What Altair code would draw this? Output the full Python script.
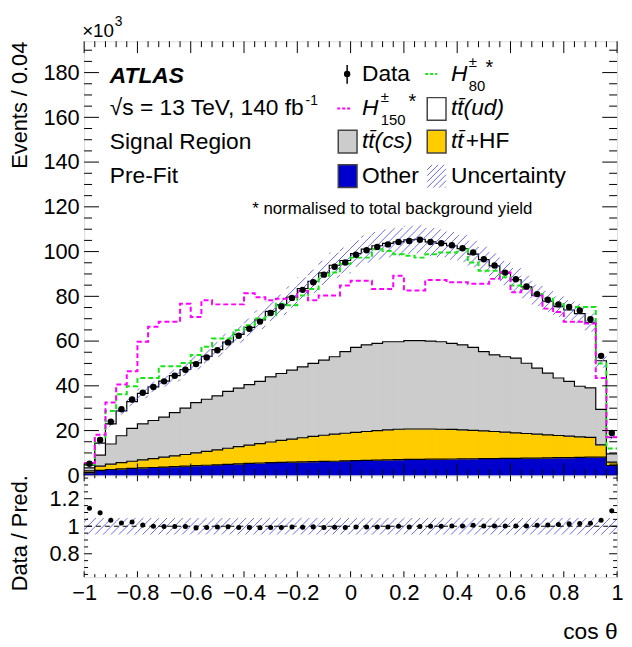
import altair as alt
import pandas as pd

# ---------------- data (in units of 10^3) ----------------
N = 50
bin_lo = [round(-1 + 0.04 * i, 2) for i in range(N)]
bin_hi = [round(-0.96 + 0.04 * i, 2) for i in range(N)]

data_obs = [5.2, 15.8, 24.0, 29.5, 33.9, 36.9, 39.5, 42.0, 44.5, 47.2,
            49.7, 52.7, 55.9, 59.4, 62.4, 65.5, 68.7, 72.6, 75.5, 79.3,
            82.9, 86.3, 89.7, 93.2, 95.1, 98.6, 100.6, 102.1, 103.2, 104.3,
            104.7, 105.3, 104.3, 103.7, 102.8, 101.5, 99.6, 96.6, 93.8, 90.6,
            87.6, 84.4, 81.0, 78.5, 76.4, 75.2, 73.7, 69.8, 53.4, 18.9]
other = [1.2, 2.2, 2.6, 2.9, 3.1, 3.3, 3.5, 3.7, 3.9, 4.1,
         4.3, 4.5, 4.7, 4.9, 5.1, 5.3, 5.5, 5.7, 5.8, 5.9,
         6.0, 6.1, 6.2, 6.3, 6.5, 6.6, 6.7, 6.8, 6.9, 7.0,
         7.1, 7.1, 7.2, 7.2, 7.3, 7.4, 7.4, 7.5, 7.5, 7.6,
         7.6, 7.7, 7.7, 7.8, 7.9, 7.9, 8.0, 8.1, 8.1, 4.4]
tt_hf = [0.8, 1.9, 2.4, 2.8, 3.2, 3.6, 4.0, 4.4, 4.8, 5.2,
         5.7, 6.2, 6.7, 7.2, 7.7, 8.2, 8.7, 9.2, 9.8, 10.3,
         10.8, 11.3, 11.7, 12.1, 12.3, 12.6, 12.9, 13.2, 13.4, 13.6,
         13.6, 13.6, 13.5, 13.4, 13.2, 12.9, 12.7, 12.4, 12.1, 11.7,
         11.4, 11.0, 10.7, 10.3, 9.9, 9.6, 9.2, 8.9, 5.5, 1.5]
tt_cs = [1.3, 4.9, 9.0, 12.0, 14.7, 16.1, 17.0, 17.9, 19.3, 20.7,
         22.5, 23.3, 24.1, 25.4, 26.2, 27.0, 27.8, 29.1, 29.9, 30.8,
         31.7, 32.6, 33.6, 34.6, 36.5, 38.0, 38.7, 39.0, 39.4, 39.1,
         39.5, 39.5, 39.3, 39.1, 38.5, 38.0, 37.1, 35.4, 34.2, 33.7,
         33.4, 31.4, 29.5, 27.6, 25.7, 24.5, 22.6, 22.1, 15.9, 3.7]
tt_ud = [1.3, 5.4, 9.0, 11.1, 11.9, 13.6, 15.0, 16.1, 16.6, 17.3,
         17.8, 19.2, 20.7, 22.1, 24.0, 25.6, 27.5, 29.3, 30.7, 32.7,
         35.0, 36.7, 39.0, 40.9, 40.7, 41.9, 42.8, 43.6, 44.0, 44.6,
         45.0, 45.3, 44.3, 44.0, 43.6, 43.0, 41.7, 41.1, 39.8, 37.4,
         35.0, 34.1, 32.5, 32.1, 31.9, 31.9, 32.5, 29.2, 21.7, 7.4]
h80 = [5.0, 16.5, 28.8, 36.2, 39.8, 43.5, 43.5, 48.7, 48.7, 50.2,
       53.8, 57.5, 61.2, 61.2, 64.9, 67.1, 70.1, 71.5, 76.7, 76.0,
       80.4, 83.3, 89.2, 90.7, 94.5, 97.3, 97.3, 101.0, 100.3, 98.8,
       98.1, 97.3, 98.8, 99.6, 99.6, 101.0, 95.1, 91.4, 91.4, 88.5,
       84.8, 83.3, 81.1, 78.9, 76.6, 75.2, 75.2, 75.2, 50.0, 12.0]
h150 = [5.5, 18.1, 32.5, 40.6, 46.5, 59.7, 66.4, 68.6, 68.6, 76.7,
        70.8, 78.2, 76.4, 76.4, 76.4, 81.4, 79.6, 78.2, 78.9, 79.6,
        82.5, 78.2, 80.4, 80.4, 84.8, 87.0, 87.0, 83.3, 83.3, 89.2,
        82.6, 82.6, 87.3, 87.3, 86.3, 86.3, 85.6, 85.6, 87.8, 90.7,
        81.8, 83.3, 80.4, 74.5, 73.0, 68.6, 68.6, 67.9, 43.5, 17.0]
UNC = 0.06  # relative size of the uncertainty band

x_major = [-1, -0.8, -0.6, -0.4, -0.2, 0, 0.2, 0.4, 0.6, 0.8, 1]
y_major = [0, 20, 40, 60, 80, 100, 120, 140, 160, 180]
r_major = [0.8, 1.0, 1.2]

# ---------------- layout constants ----------------
W, H1, H2 = 539, 439, 103
YMAX = 194
RLO, RHI = 0.63, 1.37
FONT = "Liberation Sans"
GREEN = "#14e614"
MAGENTA = "#ff00ff"
HATCH = "#6464ff"
HS = 8  # hatch spacing (px)

xs = alt.Scale(domain=[-1, 1], nice=False, zero=False)
ys = alt.Scale(domain=[0, YMAX], nice=False, zero=False)
rs = alt.Scale(domain=[RLO, RHI], nice=False, zero=False)

procs = ["Other", "ttHF", "ttcs", "ttud"]
pcolors = ["#0000cc", "#ffcc00", "#cccccc", "#ffffff"]

wide = pd.DataFrame({"bin": list(range(N)), "lo": bin_lo, "hi": bin_hi, "data": data_obs,
                     "Other": other, "ttHF": tt_hf, "ttcs": tt_cs, "ttud": tt_ud,
                     "H80": h80, "H150": h150})
wide["center"] = (wide["lo"] + wide["hi"]) / 2

long = wide.melt(id_vars=["bin", "lo", "hi"], value_vars=procs, var_name="process", value_name="val")
long["order"] = long["process"].map({p: i for i, p in enumerate(procs)})
sig = wide.melt(id_vars=["bin", "lo", "hi"], value_vars=["H80", "H150"], var_name="sig", value_name="val")

x_minor = [round(-1 + 0.04 * i, 2) for i in range(51)]
y_minor = [5 * i for i in range(39)]
r_minor = [round(0.65 + 0.05 * i, 2) for i in range(15)]

TOT = "datum.Other + datum.ttHF + datum.ttcs + datum.ttud"

# ---------------- axes ----------------
y_axis_main = alt.Axis(values=y_major, title="Events / 0.04", ticks=False, domain=False, grid=False,
                       labelFont=FONT, labelFontSize=22, labelPadding=5, labelColor="black",
                       labelFlush=False, labelOverlap=False,
                       titleFont=FONT, titleFontSize=22, titleFontWeight="normal", titleColor="black",
                       titleAngle=270, titleX=-65, titleY=0, titleAlign="right", titleBaseline="middle")
y_axis_ratio = alt.Axis(values=r_major, title="Data / Pred.", ticks=False, domain=False, grid=False,
                        labelFont=FONT, labelFontSize=22, labelPadding=5, labelColor="black",
                        labelFlush=False, labelOverlap=False,
                        labelExpr="datum.value == 1 ? '1' : format(datum.value, '.1f')",
                        titleFont=FONT, titleFontSize=22, titleFontWeight="normal", titleColor="black",
                        titleAngle=270, titleX=-65, titleY=58, titleAlign="center", titleBaseline="middle")
x_axis_ratio = alt.Axis(values=x_major, format=".1~f", title="cos θ", ticks=False, domain=False, grid=False,
                        labelFont=FONT, labelFontSize=22, labelPadding=6, labelColor="black",
                        labelFlush=False, labelOverlap=False,
                        titleFont=FONT, titleFontSize=23, titleFontWeight="normal", titleColor="black",
                        titleX=W, titleY=62, titleAlign="right", titleBaseline="alphabetic")


def xticks(vals, length, H, xaxis, top=False):
    df = pd.DataFrame({"v": vals})
    if top:
        yy, yy2 = alt.value(0), alt.value(length)
    else:
        yy, yy2 = alt.value(H), alt.value(H - length)
    return alt.Chart(df).mark_rule(color="black", strokeWidth=1).encode(
        x=alt.X("v:Q", scale=xs, axis=xaxis), y=yy, y2=yy2)


def yticks(vals, length, yscale, yaxis, right=False):
    df = pd.DataFrame({"v": vals})
    if right:
        xx, xx2 = alt.value(W), alt.value(W - length)
    else:
        xx, xx2 = alt.value(0), alt.value(length)
    return alt.Chart(df).mark_rule(color="black", strokeWidth=1).encode(
        y=alt.Y("v:Q", scale=yscale, axis=yaxis), x=xx, x2=xx2)


def txt(x, y, s, size=23, style="normal", weight="normal", align="left", baseline="middle", color="black"):
    return alt.Chart(pd.DataFrame({"t": [s]})).mark_text(
        font=FONT, fontSize=size, fontStyle=style, fontWeight=weight, align=align,
        baseline=baseline, color=color).encode(x=alt.value(x), y=alt.value(y), text="t:N")


def box(x1, x2, y1, y2, fill, stroke="#444444"):
    return alt.Chart(pd.DataFrame({"a": [0]})).mark_rect(
        fill=fill, stroke=stroke, strokeWidth=1.5).encode(
        x=alt.value(x1), x2=alt.value(x2), y=alt.value(y1), y2=alt.value(y2))


def seg(x1, x2, y1, y2, color, width=1.0, dash=None):
    kw = dict(color=color, strokeWidth=width)
    if dash:
        kw["strokeDash"] = dash
    return alt.Chart(pd.DataFrame({"a": [0]})).mark_rule(**kw).encode(
        x=alt.value(x1), x2=alt.value(x2), y=alt.value(y1), y2=alt.value(y2))


def hatch(base, lo_field, hi_field, y2px, px2y, yscale, xaxis, yaxis):
    """45-degree hatch lines filling each bin's band [lo_field, hi_field]."""
    px = W / 2
    return base.transform_calculate(
        xl=f"(datum.lo + 1) * {px}", xr=f"(datum.hi + 1) * {px}",
        yb=y2px.format(f"datum.{lo_field}"), yt=y2px.format(f"datum.{hi_field}")
    ).transform_calculate(
        ks=f"sequence(ceil((datum.yb - datum.xr) / {HS}), floor((datum.yt - datum.xl) / {HS}) + 1)"
    ).transform_flatten(["ks"]).transform_calculate(
        c=f"datum.ks * {HS}"
    ).transform_calculate(
        hx1="max(datum.xl, datum.yb - datum.c)", hx2="min(datum.xr, datum.yt - datum.c)"
    ).transform_filter("datum.hx2 > datum.hx1 + 0.05").transform_calculate(
        hv1=f"datum.hx1 / {px} - 1", hv2=f"datum.hx2 / {px} - 1",
        hy1=px2y.format("(datum.hx1 + datum.c)"), hy2=px2y.format("(datum.hx2 + datum.c)")
    ).mark_rule(color=HATCH, strokeWidth=1).encode(
        x=alt.X("hv1:Q", scale=xs, axis=xaxis), x2="hv2:Q",
        y=alt.Y("hy1:Q", scale=yscale, axis=yaxis), y2="hy2:Q")


# ---------------- main panel ----------------
stacked = alt.Chart(long).transform_stack(
    stack="val", groupby=["bin"], as_=["y0", "y1"], sort=[alt.SortField("order", order="ascending")])

pscale = alt.Scale(domain=procs, range=pcolors)
fills = stacked.mark_rect(strokeWidth=1.1).encode(
    x=alt.X("lo:Q", scale=xs, axis=None), x2="hi:Q",
    y=alt.Y("y0:Q", scale=ys, axis=y_axis_main), y2="y1:Q",
    color=alt.Color("process:N", scale=pscale, legend=None),
    stroke=alt.Stroke("process:N", scale=pscale, legend=None))

outlines = stacked.transform_fold(["lo", "hi"], as_=["edge", "xe"]).transform_calculate(
    seq="datum.bin * 2 + (datum.edge == 'hi' ? 1 : 0)").mark_line(color="black", strokeWidth=1.2).encode(
    x=alt.X("xe:Q", scale=xs, axis=None), y=alt.Y("y1:Q", scale=ys, axis=y_axis_main),
    detail="process:N", order="seq:Q")

mband = alt.Chart(wide).transform_calculate(tot=TOT).transform_calculate(
    blo=f"datum.tot * (1 - {UNC})", bhi=f"datum.tot * (1 + {UNC})")
band = hatch(mband, "blo", "bhi", "({} * " + f"{H1 / YMAX})", "({} / " + f"{H1 / YMAX})",
             ys, None, y_axis_main)


def signal_line(name, color):
    return alt.Chart(sig).transform_filter(f"datum.sig == '{name}'").transform_fold(
        ["lo", "hi"], as_=["edge", "xe"]).transform_calculate(
        seq="datum.bin * 2 + (datum.edge == 'hi' ? 1 : 0)").mark_line(
        strokeWidth=2, strokeDash=[5, 3], color=color).encode(
        x=alt.X("xe:Q", scale=xs, axis=None), y=alt.Y("val:Q", scale=ys, axis=y_axis_main),
        order="seq:Q")


sig80 = signal_line("H80", GREEN)
sig150 = signal_line("H150", MAGENTA)

points = alt.Chart(wide).mark_circle(size=42, color="black", opacity=1).encode(
    x=alt.X("center:Q", scale=xs, axis=None), y=alt.Y("data:Q", scale=ys, axis=y_axis_main))

xmin_main = [v for v in x_minor if v not in x_major]
main_ticks = [
    xticks(xmin_main, 6, H1, None),
    xticks(x_major, 12, H1, None),
    xticks(xmin_main, 6, H1, None, top=True),
    xticks(x_major, 12, H1, None, top=True),
    yticks([v for v in y_minor if v not in y_major], 8, ys, y_axis_main),
    yticks(y_major, 15, ys, y_axis_main),
    yticks([v for v in y_minor if v not in y_major], 8, ys, y_axis_main, right=True),
    yticks(y_major, 15, ys, y_axis_main, right=True),
]

# hatch lines in the legend box (decoration)
hb_x1, hb_x2, hb_y1, hb_y2 = 347, 366, 125, 148
hatch_legend = []
for c in range(-18, 24, 6):
    a = max(0, -c)
    b = min(hb_x2 - hb_x1, (hb_y2 - hb_y1) - c)
    if b > a:
        hatch_legend.append(seg(hb_x1 + a, hb_x1 + b, hb_y2 - (a + c), hb_y2 - (b + c), HATCH, 1))

texts = [
    txt(-2, -4, "×10", size=19, baseline="alphabetic"),
    txt(31, -15, "3", size=14, baseline="alphabetic"),
    txt(26, 35, "ATLAS", size=23, style="italic", weight="bold"),
    txt(26, 68, "√s = 13 TeV, 140 fb", size=23),
    txt(224, 60, "-1", size=14),
    txt(26, 102, "Signal Region", size=23),
    txt(26, 136, "Pre-Fit", size=23),
    txt(170, 170, "* normalised to total background yield", size=17),
    # row 1
    seg(266, 266, 24, 43, "black", 1.5),
    txt(281, 33, "Data", size=23),
    seg(345, 357, 33, 33, GREEN, 2, [3, 2]),
    txt(371, 33, "H", size=23, style="italic"),
    txt(389, 21, "±", size=15),
    txt(389, 45, "80", size=15),
    txt(406, 27, "*", size=20),
    # row 2
    seg(256, 271, 68, 68, MAGENTA, 2, [3, 2]),
    txt(281, 68, "H", size=23, style="italic"),
    txt(300, 56, "±", size=15),
    txt(300, 80, "150", size=15),
    txt(328, 62, "*", size=20),
    box(347, 366, 57, 80, "white"),
    txt(371, 68, "tt̄(ud)", size=23, style="italic"),
    # row 3
    box(257, 276, 90, 113, "#cccccc"),
    txt(281, 101, "tt̄(cs)", size=23, style="italic"),
    box(347, 366, 90, 113, "#ffcc00"),
    txt(371, 101, "tt̄", size=23, style="italic"),
    txt(386, 101, "+HF", size=23),
    # row 4
    box(257, 276, 125, 148, "#0000cc"),
    txt(281, 136, "Other", size=23),
    txt(371, 136, "Uncertainty", size=23),
]

leg_pt = alt.Chart(pd.DataFrame({"a": [0]})).mark_circle(size=42, color="black", opacity=1).encode(
    x=alt.value(266), y=alt.value(33))

main = alt.layer(fills, outlines, band, sig80, sig150, points, *main_ticks, *texts, *hatch_legend,
                 leg_pt).properties(width=W, height=H1)

# ---------------- ratio panel ----------------
rbase = alt.Chart(wide).transform_calculate(tot=TOT).transform_calculate(
    ratio="datum.data / datum.tot", rlo=f"1 - {UNC}", rhi=f"1 + {UNC}")

rband = hatch(rbase, "rlo", "rhi", "(({} - " + f"{RLO}) * {H2 / (RHI - RLO)})",
              "({} / " + f"{H2 / (RHI - RLO)} + {RLO})", rs, x_axis_ratio, y_axis_ratio)
one = alt.Chart(pd.DataFrame({"one": [1.0]})).mark_rule(color="black", strokeWidth=1, strokeDash=[5, 4]).encode(
    y=alt.Y("one:Q", scale=rs, axis=y_axis_ratio))
rpts = rbase.mark_circle(size=26, color="black", opacity=1, clip=True).encode(
    x=alt.X("center:Q", scale=xs, axis=x_axis_ratio), y=alt.Y("ratio:Q", scale=rs, axis=y_axis_ratio))

ratio_ticks = [
    xticks(xmin_main, 3, H2, x_axis_ratio),
    xticks(x_major, 6, H2, x_axis_ratio),
    xticks(xmin_main, 3, H2, x_axis_ratio, top=True),
    xticks(x_major, 6, H2, x_axis_ratio, top=True),
    yticks([v for v in r_minor if v not in r_major], 4, rs, y_axis_ratio),
    yticks(r_major, 8, rs, y_axis_ratio),
    yticks([v for v in r_minor if v not in r_major], 4, rs, y_axis_ratio, right=True),
    yticks(r_major, 8, rs, y_axis_ratio, right=True),
]

ratio = alt.layer(rband, one, rpts, *ratio_ticks).properties(width=W, height=H2)

chart = alt.vconcat(main, ratio, spacing=0, bounds="flush").properties(
    padding={"left": 0, "top": 3, "right": 0, "bottom": 0}
).configure_view(stroke="black", strokeWidth=1.5).configure(background="white")

chart.save("out.html", embed_options={"renderer": "svg", "actions": False})
